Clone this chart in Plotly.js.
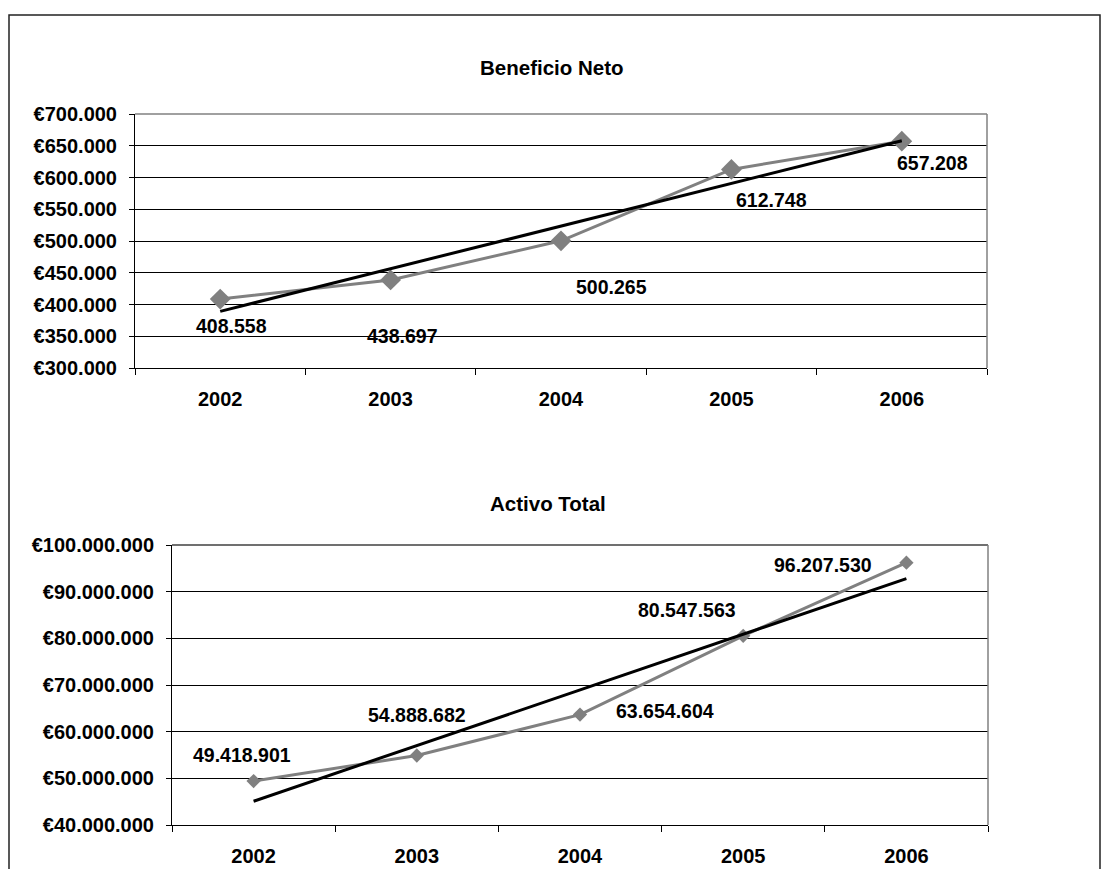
<!DOCTYPE html>
<html>
<head>
<meta charset="utf-8">
<script src="https://cdn.plot.ly/plotly-3.0.1.min.js"></script>
<style>
  html, body { margin: 0; padding: 0; background: #ffffff; }
  #chart { width: 1109px; height: 869px; }
</style>
</head>
<body>
<div id="chart"></div>
<script>
// Yearly figures
const years = ['2002', '2003', '2004', '2005', '2006'];
const beneficioNeto = [408558, 438697, 500265, 612748, 657208];
const activoTotal = [49418901, 54888682, 63654604, 80547563, 96207530];

// Chart titles
const tituloBeneficio = 'Beneficio Neto';
const tituloActivo = 'Activo Total';

// Pixel offsets of each value label from its point [dx, dy]
const beneficioLabelShift = [[11, -27], [12, -56], [50, -46], [40, -31], [31, -22]];
const activoLabelShift = [[-12, 26], [0, 41], [85, 4], [-56, 26], [-83, -2]];

const W = 1109, H = 869;
const FONT = 'Arial, "Liberation Sans", sans-serif';

// Spanish style number: thousands separated with dots
function fmt(n) {
  return String(Math.round(n)).replace(/\B(?=(\d{3})+(?!\d))/g, '.');
}

// Least-squares linear trend evaluated at the first and last category
function linearTrend(values) {
  const n = values.length;
  const xs = values.map((_, i) => i + 1);
  const mx = xs.reduce((a, b) => a + b, 0) / n;
  const my = values.reduce((a, b) => a + b, 0) / n;
  let num = 0, den = 0;
  for (let i = 0; i < n; i++) {
    num += (xs[i] - mx) * (values[i] - my);
    den += (xs[i] - mx) * (xs[i] - mx);
  }
  const slope = num / den;
  const icpt = my - slope * mx;
  return [icpt + slope * xs[0], icpt + slope * xs[n - 1]];
}

// Pixel box -> paper domain helpers
const dx = (a, b) => [a / W, b / W];
const dy = (top, bottom) => [1 - bottom / H, 1 - top / H];

const GREY = '#808080';

const trendB = linearTrend(beneficioNeto);
const trendA = linearTrend(activoTotal);

const traces = [
  {
    x: years, y: beneficioNeto, xaxis: 'x', yaxis: 'y',
    type: 'scatter', mode: 'lines+markers',
    line: { color: GREY, width: 3 },
    marker: { symbol: 'diamond', size: 16, color: GREY },
    hoverinfo: 'skip'
  },
  {
    x: [years[0], years[years.length - 1]], y: trendB, xaxis: 'x', yaxis: 'y',
    type: 'scatter', mode: 'lines',
    line: { color: '#000000', width: 3 },
    hoverinfo: 'skip'
  },
  {
    x: years, y: activoTotal, xaxis: 'x2', yaxis: 'y2',
    type: 'scatter', mode: 'lines+markers',
    line: { color: GREY, width: 3 },
    marker: { symbol: 'diamond', size: 11, color: GREY },
    hoverinfo: 'skip'
  },
  {
    x: [years[0], years[years.length - 1]], y: trendA, xaxis: 'x2', yaxis: 'y2',
    type: 'scatter', mode: 'lines',
    line: { color: '#000000', width: 3 },
    hoverinfo: 'skip'
  }
];

const tickFont = { family: FONT, size: 20, color: '#000000', weight: 'bold' };

function xAxis(domain, anchor) {
  return {
    domain: domain, anchor: anchor, type: 'category',
    range: [-0.5, years.length - 0.5],
    showgrid: false, zeroline: false,
    showline: true, linecolor: '#000000', linewidth: 1,
    ticks: 'outside', tickson: 'boundaries', ticklen: 6, tickcolor: '#000000', tickwidth: 1,
    tickfont: tickFont, ticklabelstandoff: 13,
    automargin: false, fixedrange: true
  };
}

function yAxis(domain, anchor, range, dtick) {
  return {
    domain: domain, anchor: anchor, range: range, dtick: dtick,
    tickmode: 'linear', tick0: range[0],
    tickprefix: '€', tickformat: ',d',
    showgrid: true, gridcolor: '#000000', gridwidth: 1,
    zeroline: false,
    showline: true, linecolor: '#000000', linewidth: 1,
    ticks: 'outside', ticklen: 5, tickcolor: '#000000', tickwidth: 1,
    tickfont: tickFont, ticklabelstandoff: 8,
    automargin: false, fixedrange: true
  };
}

// Value labels: category index on x, value on y, nudged in pixels
const labelFont = { family: FONT, size: 19.5, color: '#000000', weight: 'bold' };
const annotations = [];
beneficioNeto.forEach((v, i) => {
  annotations.push({
    x: i, y: v, xref: 'x', yref: 'y', showarrow: false,
    xanchor: 'center', yanchor: 'middle',
    text: fmt(v), font: labelFont,
    xshift: beneficioLabelShift[i][0], yshift: beneficioLabelShift[i][1]
  });
});
activoTotal.forEach((v, i) => {
  annotations.push({
    x: i, y: v, xref: 'x2', yref: 'y2', showarrow: false,
    xanchor: 'center', yanchor: 'middle',
    text: fmt(v), font: labelFont,
    xshift: activoLabelShift[i][0], yshift: activoLabelShift[i][1]
  });
});

const titleFont = { family: FONT, size: 20.5, color: '#000000', weight: 'bold' };
annotations.push({
  text: tituloBeneficio, xref: 'paper', yref: 'paper',
  x: 552 / W, y: 1 - 68 / H, xanchor: 'center', yanchor: 'middle',
  showarrow: false, font: titleFont
});
annotations.push({
  text: tituloActivo, xref: 'paper', yref: 'paper',
  x: 548 / W, y: 1 - 503 / H, xanchor: 'center', yanchor: 'middle',
  showarrow: false, font: titleFont
});

const shapes = [
  // outer chart frame
  { type: 'rect', xref: 'paper', yref: 'paper',
    x0: 9 / W, x1: 1100 / W, y0: -0.05, y1: 1 - 15 / H,
    line: { color: '#222222', width: 1.5 }, fillcolor: 'rgba(0,0,0,0)', layer: 'below' },
  // grey plot-area border (top and right) of each panel
  { type: 'line', xref: 'x domain', yref: 'y domain', x0: 0, x1: 1, y0: 1, y1: 1,
    line: { color: GREY, width: 1.5 } },
  { type: 'line', xref: 'x domain', yref: 'y domain', x0: 1, x1: 1, y0: 0, y1: 1,
    line: { color: GREY, width: 1.5 } },
  { type: 'line', xref: 'x2 domain', yref: 'y2 domain', x0: 0, x1: 1, y0: 1, y1: 1,
    line: { color: '#404040', width: 1.5 } },
  { type: 'line', xref: 'x2 domain', yref: 'y2 domain', x0: 1, x1: 1, y0: 0, y1: 1,
    line: { color: GREY, width: 1.5 } }
];

const layout = {
  width: W, height: H,
  margin: { l: 0, r: 0, t: 0, b: 0, pad: 0 },
  paper_bgcolor: '#ffffff', plot_bgcolor: '#ffffff',
  separators: ',.',
  showlegend: false,
  xaxis: xAxis(dx(135, 987), 'y'),
  yaxis: yAxis(dy(114, 368), 'x', [300000, 700000], 50000),
  xaxis2: xAxis(dx(172, 988), 'y2'),
  yaxis2: yAxis(dy(545, 825), 'x2', [40000000, 100000000], 10000000),
  annotations: annotations,
  shapes: shapes
};

Plotly.newPlot('chart', traces, layout, { staticPlot: true, displayModeBar: false });
</script>
</body>
</html>
